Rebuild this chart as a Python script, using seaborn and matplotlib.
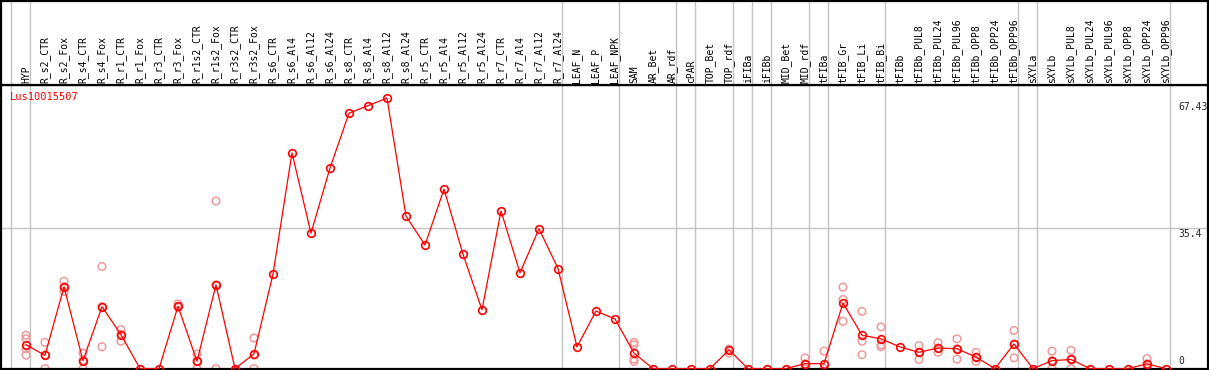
import matplotlib
matplotlib.use("Agg")
import matplotlib.pyplot as plt
import matplotlib.transforms as mtransforms
import seaborn as sns
import pandas as pd

categories = ["HYP", "R_s2_CTR", "R_s2_Fox", "R_s4_CTR", "R_s4_Fox", "R_r1_CTR", "R_r1_Fox",
              "R_r3_CTR", "R_r3_Fox", "R_r1s2_CTR", "R_r1s2_Fox", "R_r3s2_CTR", "R_r3s2_Fox",
              "R_s6_CTR", "R_s6_Al4", "R_s6_Al12", "R_s6_Al24", "R_s8_CTR", "R_s8_Al4",
              "R_s8_Al12", "R_s8_Al24", "R_r5_CTR", "R_r5_Al4", "R_r5_Al12", "R_r5_Al24",
              "R_r7_CTR", "R_r7_Al4", "R_r7_Al12", "R_r7_Al24", "LEAF_N", "LEAF_P", "LEAF_NPK",
              "SAM", "AR_Bet", "AR_rdf", "cPAR", "TOP_Bet", "TOP_rdf", "iFIBa", "iFIBb",
              "MID_Bet", "MID_rdf", "tFIBa", "tFIB_Gr", "tFIB_Li", "tFIB_Bi", "tFIBb",
              "tFIBb_PUL8", "tFIBb_PUL24", "tFIBb_PUL96", "tFIBb_OPP8", "tFIBb_OPP24",
              "tFIBb_OPP96", "sXYLa", "sXYLb", "sXYLb_PUL8", "sXYLb_PUL24", "sXYLb_PUL96",
              "sXYLb_OPP8", "sXYLb_OPP24", "sXYLb_OPP96"]

mean_values = [6.0, 3.35, 20.6, 2.0, 15.6, 8.55, 0, 0, 15.7, 1.85, 21.1, 0, 3.7,
               23.8, 54.3, 34.1, 50.5, 64.3, 66.2, 68.1, 38.4, 31.1, 45.2, 28.8, 14.8,
               39.7, 24.1, 35.2, 25.2, 5.45, 14.5, 12.5, 3.9, 0, 0, 0, 0, 4.7, 0, 0,
               0, 1.25, 1.25, 16.5, 8.4, 7.5, 5.45, 4.1, 5.2, 5.0, 2.9, 0, 6.2, 0,
               2.0, 2.3, 0, 0, 0, 1.2, 0]

rep_index = [0, 0, 0, 0, 1, 1, 1, 2, 2, 2, 3, 3, 3, 4, 4, 4, 5, 5, 5, 8, 8, 8,
             9, 9, 9, 10, 10, 10, 12, 12, 12, 32, 32, 32, 32, 37, 37, 37, 41, 41, 41,
             42, 42, 43, 43, 43, 44, 44, 44, 45, 45, 45, 47, 47, 47, 48, 48, 48,
             49, 49, 49, 50, 50, 50, 52, 52, 52, 54, 54, 54, 55, 55, 55, 59, 59, 59]
rep_values = [8.4, 7.5, 5.0, 3.4, 6.6, 0, 3.4, 22.0, 20.6, 19.4, 3.9, 0, 2.1,
              25.7, 15.6, 5.5, 9.8, 8.6, 6.9, 16.3, 15.7, 15.4, 3.7, 0, 1.9,
              42.2, 0, 21.1, 7.7, 0, 3.4, 6.6, 6.0, 2.4, 1.8, 4.9, 4.7, 3.9,
              2.7, 1.2, 0, 4.4, 0, 20.5, 17.4, 11.9, 14.4, 6.9, 3.5, 10.5, 6.0, 5.5,
              5.8, 4.1, 2.3, 6.5, 5.2, 4.1, 7.5, 5.0, 2.4, 4.1, 2.9, 1.8,
              9.6, 6.2, 2.7, 4.4, 2.0, 0, 4.6, 2.3, 0, 2.5, 1.2, 0]

group_ends = [-1, 0, 28, 31, 34, 35, 37, 38, 39, 41, 42, 45, 52, 53, 60]
ytick_values = [67.43, 35.4, 0]
ytick_labels = ["67.43", "35.4", "0"]
title = "Lus10015507"

sns.set_theme(style="white")
plt.rcParams["font.family"] = ["DejaVu Sans Mono", "DejaVu Sans"]

W, H = 1209, 370
fig = plt.figure(figsize=(W / 100, H / 100), dpi=100)
ax = fig.add_axes([1 / W, 1 / H, 1207 / W, 284 / H])
axl = fig.add_axes([1 / W, 285 / H, 1207 / W, 84 / H], sharex=ax)

xmin, xmax = (1 - 26) / 19, (1208 - 26) / 19
ax.set_xlim(xmin, xmax)
ax.set_ylim(-0.1, 71.4)
axl.set_ylim(0, 1)

for a in (ax, axl):
    for s in a.spines.values():
        s.set_color("black")
        s.set_linewidth(1.6)
    a.tick_params(left=False, bottom=False, labelleft=False, labelbottom=False)
    a.set_facecolor("white")
    for g in group_ends:
        a.axvline(g + 0.23, color="#c4c4c4", lw=1.0, zorder=0)

ax.axhline(35.4, color="#c4c4c4", lw=1.0, zorder=0)

df_mean = pd.DataFrame({"x": list(range(len(categories))), "y": mean_values})
df_rep = pd.DataFrame({"x": rep_index, "y": rep_values})

sns.scatterplot(data=df_rep, x="x", y="y", ax=ax, marker="o", s=30,
                linewidth=1.1, zorder=2, legend=False)
coll = ax.collections[-1]
coll.set_facecolor("none")
coll.set_edgecolor("#ee9a9a")

sns.lineplot(data=df_mean, x="x", y="y", ax=ax, color="red", lw=0.9,
             marker="o", markersize=5.5, markerfacecolor="none",
             markeredgecolor="red", markeredgewidth=1.2, zorder=3)
ax.set_xlabel("")
ax.set_ylabel("")
ax.set_xlim(xmin, xmax)

for i, c in enumerate(categories):
    axl.text(i, 0.025, c, rotation=90, ha="center", va="bottom",
             fontsize=7, color="black")

trans = mtransforms.blended_transform_factory(ax.transAxes, ax.transData)
xfrac = (1178 - 1) / 1207
for v, lab in zip(ytick_values, ytick_labels):
    if v == 0:
        ax.annotate(lab, xy=(xfrac, v), xycoords=trans, xytext=(0, 3),
                    textcoords="offset pixels", ha="left", va="bottom", fontsize=7)
    else:
        ax.annotate(lab, xy=(xfrac, v), xycoords=trans, xytext=(0, -1),
                    textcoords="offset pixels", ha="left", va="top", fontsize=7)

ax.text(9 / 1207, 1 - 12 / 284, title, transform=ax.transAxes, color="red",
        fontsize=7.5, ha="left", va="center")

fig.savefig("out.png", dpi=100)
